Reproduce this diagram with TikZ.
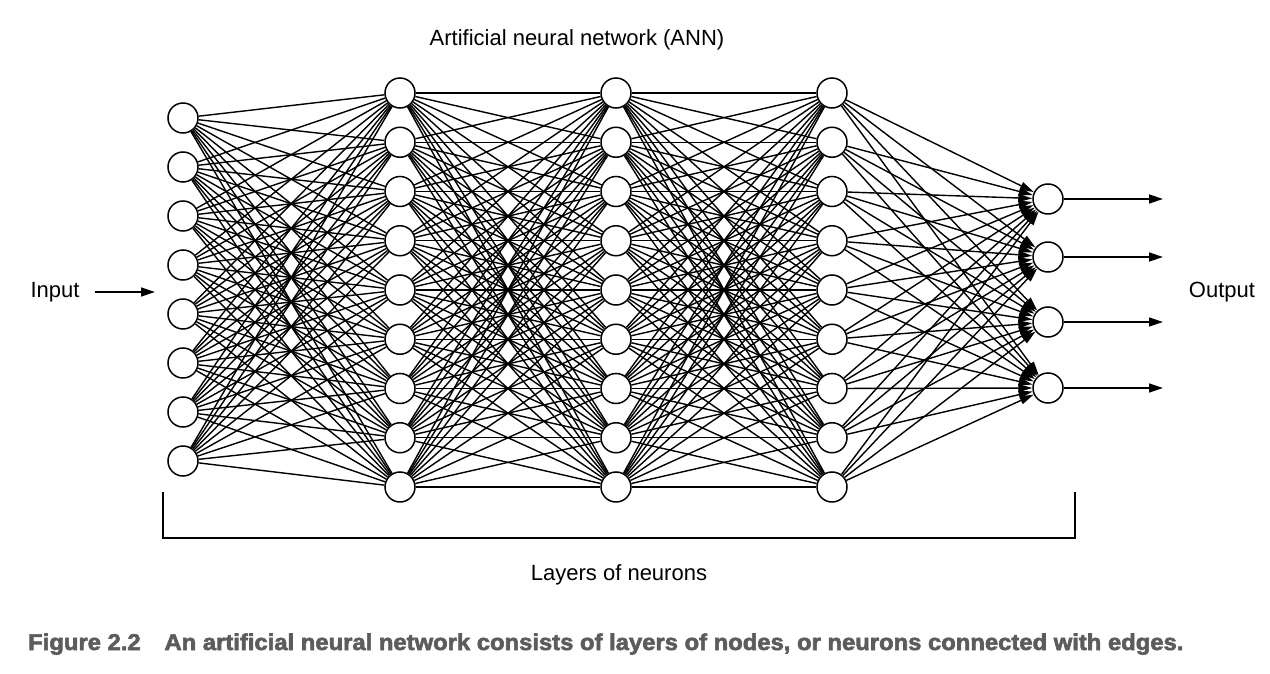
\documentclass[tikz,border=0pt]{standalone}
\usepackage{fontspec}
\usepackage{graphicx}
\setmainfont{Liberation Sans}
\newfontfamily\capfont[FakeBold=2.5]{Liberation Sans Bold}
\usetikzlibrary{arrows.meta}
\definecolor{capgray}{RGB}{92,92,92}
\tikzset{
  neuron/.style={circle,draw,line width=1.5pt,fill=white,minimum size=30pt,inner sep=0pt},
  edge/.style={line width=1.4pt},
  lab/.style={font=\fontsize{22}{26}\selectfont,inner sep=0pt},
  intip/.style={-{Triangle[length=14pt,width=8pt]}},
  outtip/.style={-{Triangle[length=14pt,width=9pt]}},
}
\begin{document}
\begin{tikzpicture}[x=1pt,y=-1pt]
\useasboundingbox (0,0) rectangle (1270,674);
% neurons
\foreach \i in {1,...,8} \node[neuron] (a\i) at (183,{118+49*(\i-1)}) {};
\foreach \i in {1,...,9} {
  \node[neuron] (b\i) at (400,{93+49.25*(\i-1)}) {};
  \node[neuron] (c\i) at (616,{93+49.25*(\i-1)}) {};
  \node[neuron] (d\i) at (832,{93+49.25*(\i-1)}) {};
}
\node[neuron] (e1) at (1048,199) {};
\node[neuron] (e2) at (1048,257) {};
\node[neuron] (e3) at (1048,322) {};
\node[neuron] (e4) at (1048,388) {};
% connections
\foreach \i in {1,...,8} \foreach \j in {1,...,9} \draw[edge] (a\i) -- (b\j);
\foreach \i in {1,...,9} \foreach \j in {1,...,9} {
  \draw[edge] (b\i) -- (c\j);
  \draw[edge] (c\i) -- (d\j);
}
\foreach \i in {1,...,9} \foreach \j in {1,...,4} \draw[edge,intip] (d\i) -- (e\j);
% output arrows
\foreach \j/\y in {1/199,2/257,3/322,4/388} {
  \coordinate (o\j) at (1163,\y);
  \draw[edge,outtip] (e\j) -- (o\j);
}
% input arrow
\node[lab] (input) at (55,292) {Input};
\coordinate (inS) at (95,292);
\coordinate (inE) at (155,292);
\draw[edge,outtip] (inS) -- (inE);
\node[lab] (output) at (1222,292) {Output};
\node[lab] (title) at (577,40) {Artificial neural network (ANN)};
% bracket
\coordinate (bl) at (163,492);
\coordinate (bbl) at (163,538);
\coordinate (bbr) at (1075,538);
\coordinate (br) at (1075,492);
\draw[line width=1.3pt] (bl) -- (bbl) -- (bbr) -- (br);
\node[lab] (layers) at (619,575) {Layers of neurons};
% caption
\node[anchor=base west,inner sep=0pt,text=capgray] (cap) at (28,650)
  {\resizebox{1155pt}{16.5pt}{\capfont Figure 2.2\hspace{1em}An artificial neural network consists of layers of nodes, or neurons connected with edges.}};
\end{tikzpicture}
\end{document}
